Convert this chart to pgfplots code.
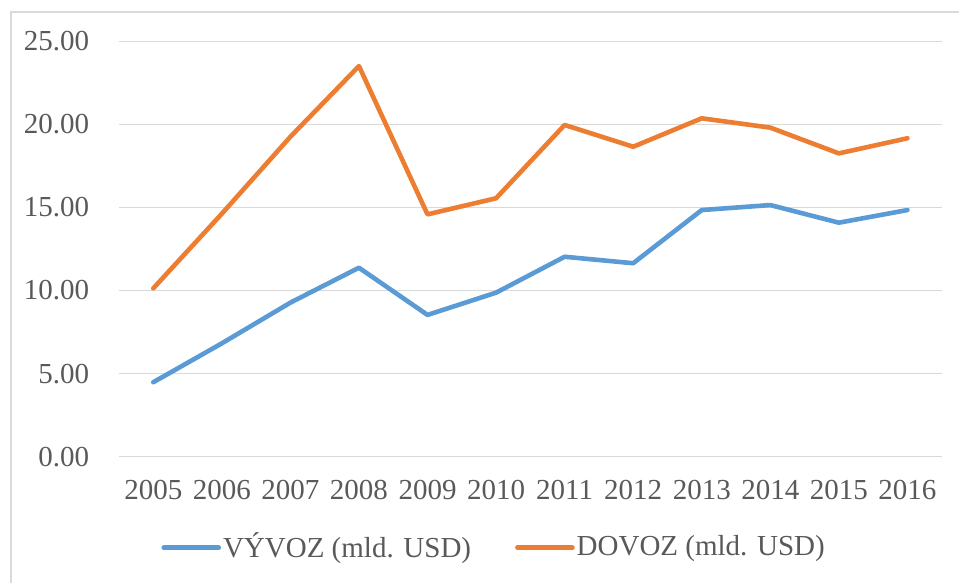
\documentclass[border=0pt]{standalone}
\usepackage{pgfplots}
\pgfplotsset{compat=1.18}
\usepackage{fontspec}
\setmainfont{Liberation Serif}
\definecolor{cblue}{HTML}{5B9BD5}
\definecolor{corange}{HTML}{ED7D31}
\definecolor{cgrid}{HTML}{D9D9D9}
\definecolor{ctext}{HTML}{595959}
\begin{document}
\fontsize{29}{34}\selectfont
\begin{tikzpicture}[x=1pt,y=1pt]
\useasboundingbox (0,0) rectangle (959,583);
\draw[cgrid, line width=1.2pt] (11,0) -- (11,571) -- (959,571);
\begin{axis}[
  at={(119pt,126.3pt)}, anchor=south west,
  scale only axis, width=822.7pt, height=415.5pt,
  xmin=-0.5, xmax=11.5, ymin=0, ymax=25,
  axis line style={draw=none},
  xtick={0,...,11},
  xticklabels={2005,2006,2007,2008,2009,2010,2011,2012,2013,2014,2015,2016},
  ytick={0,5,10,15,20,25},
  major tick length=0pt,
  ymajorgrids, grid style={cgrid, line width=1.2pt},
  tick label style={text=ctext, font=\fontsize{29}{34}\selectfont},
  yticklabel style={anchor=east, xshift=-20pt},
  xticklabel style={anchor=north, yshift=-14pt},
  /pgf/number format/assume math mode=true,
  yticklabel={\pgfmathprintnumber[fixed,fixed zerofill,precision=2]{\tick}},
  legend columns=2,
  legend style={at={(0.456,-0.219)}, anchor=center, draw=none, fill=none,
    font=\fontsize{29}{34}\selectfont, text=ctext,
    /tikz/every even column/.append style={column sep=42pt}, inner sep=0pt},
  legend image code/.code={\draw[#1, line cap=round] (0pt,0pt) -- (55pt,0pt);},
  clip=false,
]
\addplot[cblue, line width=4.6pt, line join=round, line cap=round] coordinates {
(0,4.48) (1,6.82) (2,9.27) (3,11.37) (4,8.53) (5,9.87) (6,12.03) (7,11.64) (8,14.84) (9,15.14) (10,14.08) (11,14.84)};
\addlegendentry{VÝVOZ (mld. USD)}
\addplot[corange, line width=4.6pt, line join=round, line cap=round] coordinates {
(0,10.13) (1,14.62) (2,19.25) (3,23.5) (4,14.58) (5,15.55) (6,19.96) (7,18.65) (8,20.36) (9,19.80) (10,18.25) (11,19.16)};
\addlegendentry{DOVOZ (mld. USD)}
\end{axis}
\end{tikzpicture}
\end{document}
